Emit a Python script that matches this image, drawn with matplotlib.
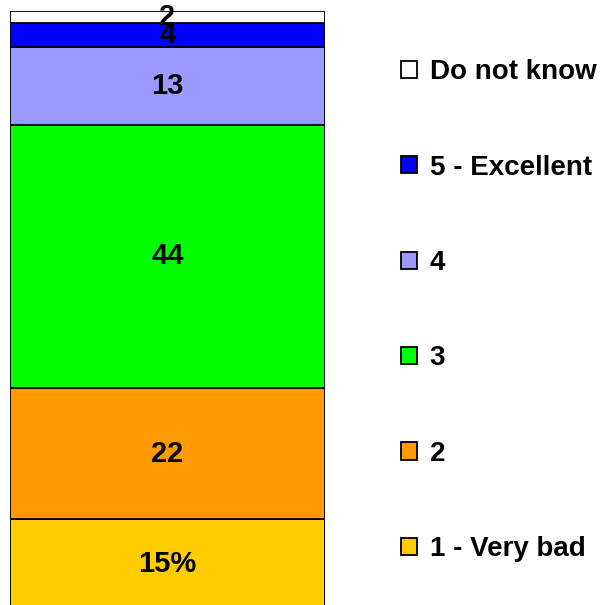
import matplotlib.pyplot as plt

# Data, bottom to top
categories = ['1 - Very bad', '2', '3', '4', '5 - Excellent', 'Do not know']
values = [15, 22, 44, 13, 4, 2]
labels = ['15%', '22', '44', '13', '4', '2']
colors = ['#FFCC00', '#FF9900', '#00FF00', '#9999FF', '#0000FF', '#FFFFFF']

plt.rcParams['font.family'] = ['Liberation Sans', 'DejaVu Sans']
plt.rcParams['font.weight'] = 'bold'

fig = plt.figure(figsize=(6.10, 6.05), dpi=100)
ax = fig.add_axes([10 / 610, -4 / 605, 315 / 610, 598 / 605])

bottom = 0
handles = []
for cat, val, lab, col in zip(categories, values, labels, colors):
    bars = ax.bar(0, val, bottom=bottom, width=1.0, color=col,
                  edgecolor='black', linewidth=1.3, label=cat)
    ax.bar_label(bars, labels=[lab], label_type='center',
                 fontsize=21, fontweight='bold')
    handles.append(bars)
    bottom += val

ax.set_xlim(-0.5, 0.5)
ax.set_ylim(0, sum(values))
ax.axis('off')

fig.legend(handles[::-1], categories[::-1], loc='upper left',
           bbox_to_anchor=(390 / 610, 1 - 48 / 605), frameon=False,
           fontsize=20, handlelength=0.58, handleheight=0.58,
           handletextpad=0.45, labelspacing=2.5, borderaxespad=0)

fig.savefig('out.png', dpi=100)
